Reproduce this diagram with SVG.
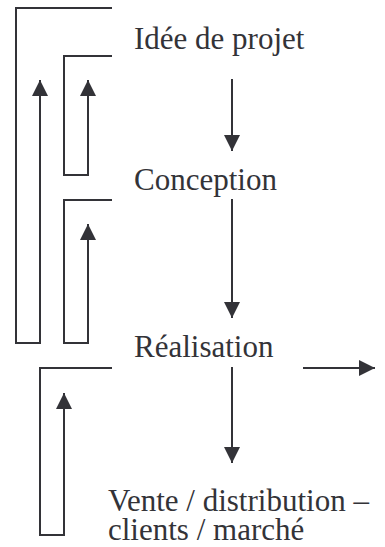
<svg xmlns="http://www.w3.org/2000/svg" width="385" height="547" viewBox="0 0 385 547">
<style>
.ln{fill:none;stroke:#333338;stroke-width:2;stroke-linecap:butt;stroke-linejoin:miter}
text{font-family:'Liberation Serif','Times New Roman',serif;font-size:31px;fill:#333338}
</style>
<defs>
<marker id="ah" viewBox="0 0 16 16" refX="16" refY="8" markerWidth="16" markerHeight="16" markerUnits="userSpaceOnUse" orient="auto">
<path d="M0,0 L16,8 L0,16 Z" fill="#333338"/>
</marker>
</defs>
<rect width="385" height="547" fill="#fff"/>
<g id="n1"><text x="134" y="49">Idée de projet</text></g>
<g id="n2"><text x="134" y="190">Conception</text></g>
<g id="n3"><text x="134" y="357">Réalisation</text></g>
<g id="n4"><text x="108" y="511">Vente / distribution –</text><text x="108" y="540">clients / marché</text></g>
<g id="connectors">
<path class="ln" d="M232,79 V151" marker-end="url(#ah)"/>
<path class="ln" d="M232,199 V318" marker-end="url(#ah)"/>
<path class="ln" d="M232,367 V463" marker-end="url(#ah)"/>
<path class="ln" d="M303,368 H375" marker-end="url(#ah)"/>
<path class="ln" d="M112,8 H16 V343 H40 V80" marker-end="url(#ah)"/>
<path class="ln" d="M112,56 H64 V175 H88 V80" marker-end="url(#ah)"/>
<path class="ln" d="M112,200 H64 V343 H88 V224" marker-end="url(#ah)"/>
<path class="ln" d="M112,368 H40 V535 H64 V393" marker-end="url(#ah)"/>
</g>
</svg>
